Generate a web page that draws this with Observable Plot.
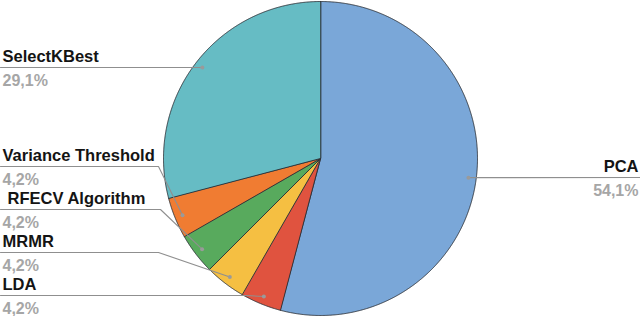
<!DOCTYPE html>
<html><head><meta charset="utf-8">
<script src="https://cdn.jsdelivr.net/npm/d3@7"></script>
<script src="https://cdn.jsdelivr.net/npm/@observablehq/plot@0.6"></script>
<style>body{margin:0;background:#fff}</style></head>
<body><div id="chart"></div>
<script>
// ---- data ----
const categories = ["PCA", "LDA", "MRMR", "RFECV Algorithm", "Variance Threshold", "SelectKBest"];
const shares = [54.1, 4.2, 4.2, 4.2, 4.2, 29.1];
const percentLabels = ["54,1%", "4,2%", "4,2%", "4,2%", "4,2%", "29,1%"];
const colors = ["#7aa7d8", "#e0533f", "#f5bf42", "#58aa5d", "#f07c32", "#66bcc4"];

// ---- layout (pixels) ----
const W = 640, H = 316, cx = 320, cy = 158, R = 157, dotR = 0.95 * R;
const labelLayout = {
  "PCA":               {lineY: 177, side: "right", textX: 638},
  "LDA":               {lineY: 295, side: "left", textX: 2, elbowX: 245},
  "MRMR":              {lineY: 252, side: "left", textX: 2, elbowX: 158},
  "RFECV Algorithm":   {lineY: 209, side: "left", textX: 7, elbowX: 160},
  "Variance Threshold":{lineY: 166, side: "left", textX: 2, elbowX: 158},
  "SelectKBest":       {lineY: 67,  side: "left", textX: 2, elbowX: null}
};

const table = categories.map((c, i) => ({name: c, share: shares[i], pct: percentLabels[i]}));
const arcs = d3.pie().sort(null).value(d => d.share).startAngle(0).endAngle(2 * Math.PI)(table);

const px = (a, r) => cx + r * Math.sin(a);
const py = (a, r) => cy - r * Math.cos(a);

// slice polygons
const slicePts = [];
arcs.forEach(a => {
  const name = a.data.name;
  slicePts.push({name, x: cx, y: cy});
  const n = Math.max(8, Math.ceil((a.endAngle - a.startAngle) / 0.005));
  for (let k = 0; k <= n; k++) {
    const t = a.startAngle + (a.endAngle - a.startAngle) * k / n;
    slicePts.push({name, x: px(t, R), y: py(t, R)});
  }
});

// leader lines, dots and labels
const leaderPts = [], dots = [], names = [], pcts = [];
arcs.forEach(a => {
  const name = a.data.name, L = labelLayout[name];
  const mid = (a.startAngle + a.endAngle) / 2;
  const dx = px(mid, dotR), dy = py(mid, dotR);
  dots.push({x: dx, y: dy});
  if (L.side === "left") {
    leaderPts.push({name, x: 0, y: L.lineY});
    if (L.elbowX != null) leaderPts.push({name, x: L.elbowX, y: L.lineY});
    leaderPts.push({name, x: dx, y: dy});
  } else {
    leaderPts.push({name, x: dx, y: dy});
    leaderPts.push({name, x: W, y: L.lineY});
  }
  names.push({text: name, x: L.textX, y: L.lineY - 10.3, anchor: L.side === "left" ? "start" : "end"});
  pcts.push({text: a.data.pct, x: L.side === "left" ? 2 : L.textX, y: L.lineY + 12.9, anchor: L.side === "left" ? "start" : "end"});
});

const font = "Liberation Sans, Arial, Helvetica, sans-serif";
const chart = Plot.plot({
  width: W, height: H, margin: 0,
  x: {domain: [0, W], range: [0, W], axis: null},
  y: {domain: [0, H], range: [0, H], axis: null},
  color: {domain: categories, range: colors},
  style: {background: "#fff"},
  marks: [
    Plot.line(slicePts, {x: "x", y: "y", z: "name", fill: "name", stroke: "#2a2f36", strokeWidth: 0.9, curve: "linear-closed"}),
    Plot.line(leaderPts, {x: "x", y: "y", z: "name", stroke: "#8f8f8f", strokeWidth: 1.1}),
    Plot.dot(dots, {x: "x", y: "y", r: 2, fill: "#9a9a9a"}),
    Plot.text(names.filter(d => d.anchor === "start"), {x: "x", y: "y", text: "text", textAnchor: "start", fontSize: 16.5, fontWeight: "bold", fontFamily: font, fill: "#141414"}),
    Plot.text(names.filter(d => d.anchor === "end"), {x: "x", y: "y", text: "text", textAnchor: "end", fontSize: 16.5, fontWeight: "bold", fontFamily: font, fill: "#141414"}),
    Plot.text(pcts.filter(d => d.anchor === "start"), {x: "x", y: "y", text: "text", textAnchor: "start", fontSize: 16, fontWeight: "bold", fontFamily: font, fill: "#a6a6a6"}),
    Plot.text(pcts.filter(d => d.anchor === "end"), {x: "x", y: "y", text: "text", textAnchor: "end", fontSize: 16, fontWeight: "bold", fontFamily: font, fill: "#a6a6a6"})
  ]
});
document.getElementById("chart").appendChild(chart);
</script>
</body></html>
